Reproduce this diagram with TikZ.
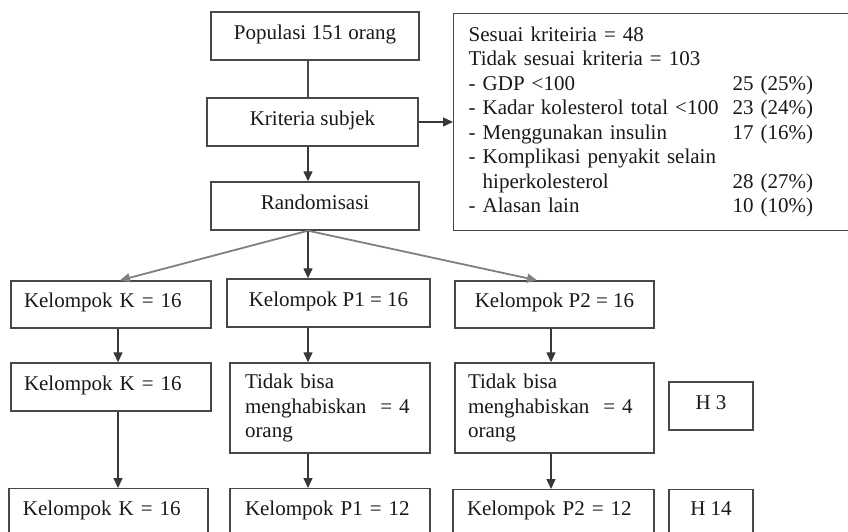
\documentclass[tikz,border=0pt]{standalone}
\usepackage{fontspec}
\setmainfont{Liberation Serif}
\usetikzlibrary{arrows.meta}
\begin{document}
\begin{tikzpicture}[x=1pt,y=-1pt,
  txt/.style={text=black!90, font=\fontsize{21}{24.5}\selectfont},
  box/.style={txt, draw=black!72, line width=1.4pt, rectangle, inner sep=0pt},
  onel/.style={text height=14.5, text depth=8},
  lbox/.style={box, align=left, text width=#1},
  conn/.style={draw=black!78, line width=1.3pt, -{Triangle[length=10,width=9]}},
  fanline/.style={draw=black!50, line width=1.8pt, -{Triangle[length=10,width=9]}},
  plainline/.style={draw=black!72, line width=1.3pt}
]
\useasboundingbox (0,0) rectangle (848,531);
\clip (0,0) rectangle (848,531);
\fill[white] (0,0) rectangle (848,531);

% x positions of connectors
\coordinate (xa) at (118,0);
\coordinate (xb) at (308,0);
\coordinate (xc) at (551,0);
\coordinate (xe) at (120,0);
\coordinate (xd) at (537,0);

% top column
\node[box, onel, minimum width=208, minimum height=48] (pop) at (315,36) {Populasi 151 orang};
\node[box, onel, minimum width=211, minimum height=48] (krit) at (312.5,122) {Kriteria subjek};
\node[box, onel, minimum width=208, minimum height=48] (rand) at (315,206) {Randomisasi};

% info box
\node[box, anchor=north west, inner xsep=15, inner ysep=9.5, text width=377, align=left,
      minimum height=217] (info) at (453,13)
{\begin{tabular}{@{}p{264pt}@{}l@{}}
Sesuai kriteiria = 48 & \\
Tidak sesuai kriteria = 103 & \\
- GDP <100 & 25 (25\%)\\
- Kadar kolesterol total <100 & 23 (24\%)\\
- Menggunakan insulin & 17 (16\%)\\
- Komplikasi penyakit selain & \\
\hphantom{- }hiperkolesterol & 28 (27\%)\\
- Alasan lain & 10 (10\%)
\end{tabular}};

% row 1
\node[lbox=174, onel, inner xsep=13, minimum height=47] (K1) at (111,304.5) {Kelompok K = 16};
\node[box, onel, minimum width=203, minimum height=48] (P1a) at (328.5,303) {Kelompok P1 = 16};
\node[box, onel, minimum width=199, minimum height=47] (P2a) at (554.5,304.5) {Kelompok P2 = 16};

% row 2
\node[lbox=174, onel, inner xsep=13, minimum height=48] (K2) at (111,387) {Kelompok K = 16};
\node[lbox=170, inner xsep=15, minimum height=90] (P1b) at (330,408) {Tidak bisa\\menghabiskan~ = 4\\orang};
\node[lbox=173, inner xsep=13, minimum height=90] (P2b) at (554.5,408) {Tidak bisa\\menghabiskan~ = 4\\orang};
\node[box, onel, minimum width=84, minimum height=48] (H3) at (711,406) {H 3};

% row 3 (cut off at the bottom)
\node[lbox=171, inner xsep=14, anchor=north, text height=26.5, text depth=50] (K3) at (108.5,488) {Kelompok K = 16};
\node[lbox=170, inner xsep=15, anchor=north, text height=26.5, text depth=50] (P1c) at (330,488) {Kelompok P1 = 12};
\node[lbox=173, inner xsep=14, anchor=north, text height=25.5, text depth=50] (P2c) at (553.5,489) {Kelompok P2 = 12};
\node[box, minimum width=84, anchor=north, text height=25.5, text depth=50] (H14) at (711,489) {H 14};

% connectors
\draw[plainline] (pop.south -| xb) -- (krit.north -| xb);
\draw[conn] (krit.south -| xb) -- (rand.north -| xb);
\draw[conn] (krit.east) -- (info.west |- krit.east);

\draw[fanline] (rand.south -| xb) -- (K1.north -| xe);
\draw[conn] (rand.south -| xb) -- (P1a.north -| xb);
\draw[fanline] (rand.south -| xb) -- (P2a.north -| xd);

\draw[conn] (K1.south -| xa) -- (K2.north -| xa);
\draw[conn] (P1a.south -| xb) -- (P1b.north -| xb);
\draw[conn] (P2a.south -| xc) -- (P2b.north -| xc);

\draw[conn] (K2.south -| xa) -- (K3.north -| xa);
\draw[conn] (P1b.south -| xb) -- (P1c.north -| xb);
\draw[conn] (P2b.south -| xc) -- (P2c.north -| xc);
\end{tikzpicture}
\end{document}
